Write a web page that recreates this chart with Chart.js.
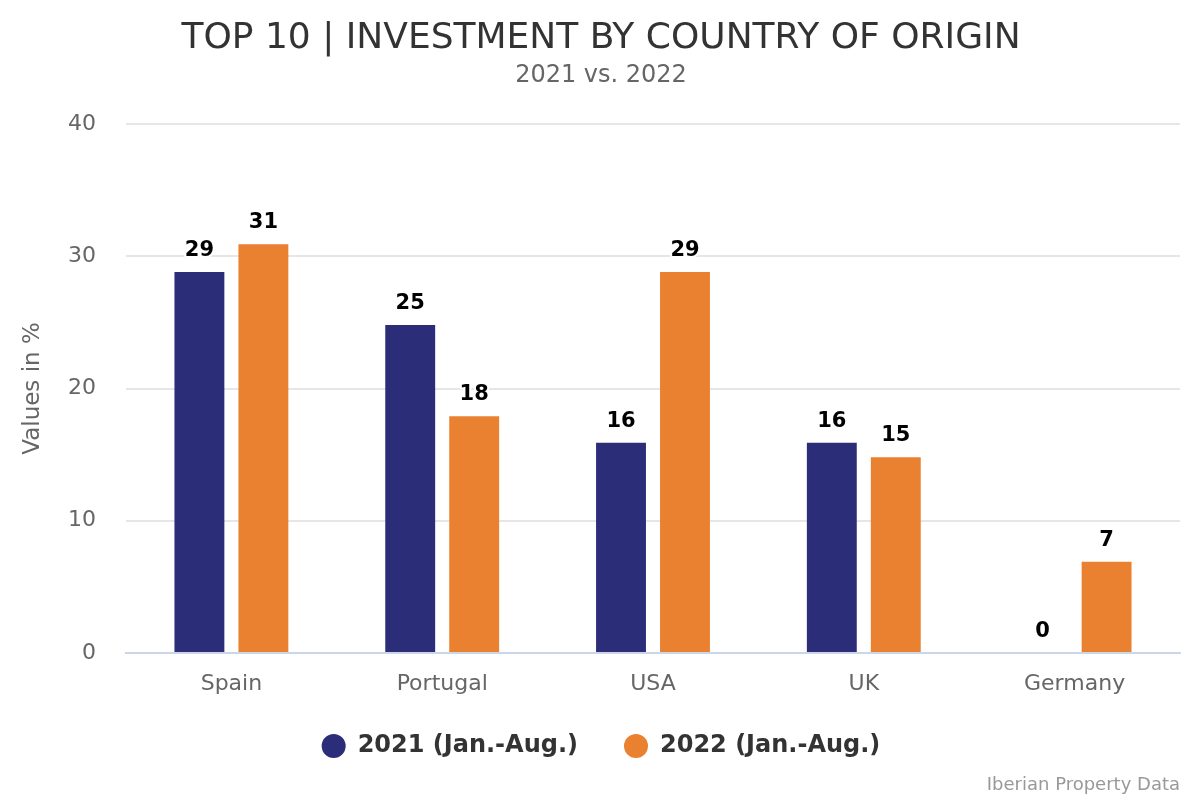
<!DOCTYPE html>
<html>
<head>
<meta charset="utf-8">
<script src="https://cdn.jsdelivr.net/npm/chart.js@4/dist/chart.umd.min.js"></script>
<style>
  html, body { margin: 0; padding: 0; background: #ffffff; }
  #wrap { width: 1200px; height: 800px; position: relative; }
</style>
</head>
<body>
<div id="wrap"><canvas id="c" width="1200" height="800"></canvas></div>
<script>
const categories = ["Spain", "Portugal", "USA", "UK", "Germany"];
const series2021 = [28.8, 24.8, 15.9, 15.9, 0];
const series2022 = [30.9, 17.9, 28.8, 14.8, 6.9];
const seriesNames = ["2021 (Jan.-Aug.)", "2022 (Jan.-Aug.)"];
const yTicks = [0, 10, 20, 30, 40];
const titleText = "TOP 10 | INVESTMENT BY COUNTRY OF ORIGIN";
const subtitleText = "2021 vs. 2022";
const yAxisTitle = "Values in %";
const creditText = "Iberian Property Data";

const FONT = "'DejaVu Sans', 'Liberation Sans', sans-serif";

const dataLabels = {
  id: 'dataLabels',
  afterDatasetsDraw(chart) {
    const ctx = chart.ctx;
    ctx.save();
    ctx.font = "bold 21px " + FONT;
    ctx.textAlign = 'center';
    ctx.textBaseline = 'alphabetic';
    ctx.lineJoin = 'round';
    chart.data.datasets.forEach((ds, di) => {
      const meta = chart.getDatasetMeta(di);
      meta.data.forEach((bar, i) => {
        const txt = String(Math.round(ds.data[i]));
        const x = bar.x, y = bar.y - 16;
        ctx.strokeStyle = '#ffffff';
        ctx.lineWidth = 4;
        ctx.strokeText(txt, x, y);
        ctx.fillStyle = '#000000';
        ctx.fillText(txt, x, y);
      });
    });
    ctx.restore();
  }
};

const credits = {
  id: 'credits',
  afterDraw(chart) {
    const ctx = chart.ctx;
    ctx.save();
    ctx.font = "18px " + FONT;
    ctx.fillStyle = '#999999';
    ctx.textAlign = 'right';
    ctx.textBaseline = 'middle';
    ctx.fillText(creditText, 1180, 785);
    ctx.restore();
  }
};

new Chart(document.getElementById('c'), {
  type: 'bar',
  data: {
    labels: categories,
    datasets: [
      { label: seriesNames[0], data: series2021, backgroundColor: '#2b2d79', borderWidth: 0 },
      { label: seriesNames[1], data: series2022, backgroundColor: '#e98131', borderWidth: 0 }
    ]
  },
  options: {
    responsive: false,
    animation: false,
    devicePixelRatio: 1,
    categoryPercentage: 0.607,
    barPercentage: 0.78,
    layout: { padding: { left: 22, right: 20, top: 0, bottom: 32 } },
    plugins: {
      title: {
        display: true, text: titleText, color: '#333333',
        font: { family: FONT, size: 36, weight: 'normal' },
        padding: { top: 17, bottom: 0 }
      },
      subtitle: {
        display: true, text: subtitleText, color: '#666666',
        font: { family: FONT, size: 24, weight: 'normal' },
        padding: { top: 1, bottom: 34 }
      },
      legend: {
        position: 'bottom',
        labels: {
          usePointStyle: true, pointStyle: 'circle',
          boxWidth: 24, boxHeight: 17, pointStyleWidth: 24,
          padding: 46, color: '#333333',
          font: { family: FONT, size: 24, weight: 'bold' }
        }
      },
      tooltip: { enabled: false }
    },
    scales: {
      x: {
        afterFit(s) { s.height = 35; s._computeLabelArea = () => undefined; },
        grid: { display: false, drawTicks: false },
        border: { display: true, color: '#ccd6eb', width: 2 },
        ticks: { color: '#666666', font: { family: FONT, size: 22 }, padding: 18 }
      },
      y: {
        min: 0, max: 40,
        afterFit(s) { s.width = 104; },
        afterBuildTicks(s) { s.ticks = yTicks.map(v => ({ value: v })); },
        grid: { color: '#e6e6e6', lineWidth: 2, drawTicks: false },
        border: { display: false },
        ticks: { color: '#666666', font: { family: FONT, size: 22 }, padding: 30, stepSize: 10 },
        title: {
          display: true, text: yAxisTitle, color: '#666666',
          font: { family: FONT, size: 23, weight: 'normal' },
          padding: { top: -3, bottom: 0 }
        }
      }
    }
  },
  plugins: [dataLabels, credits]
});
</script>
</body>
</html>
